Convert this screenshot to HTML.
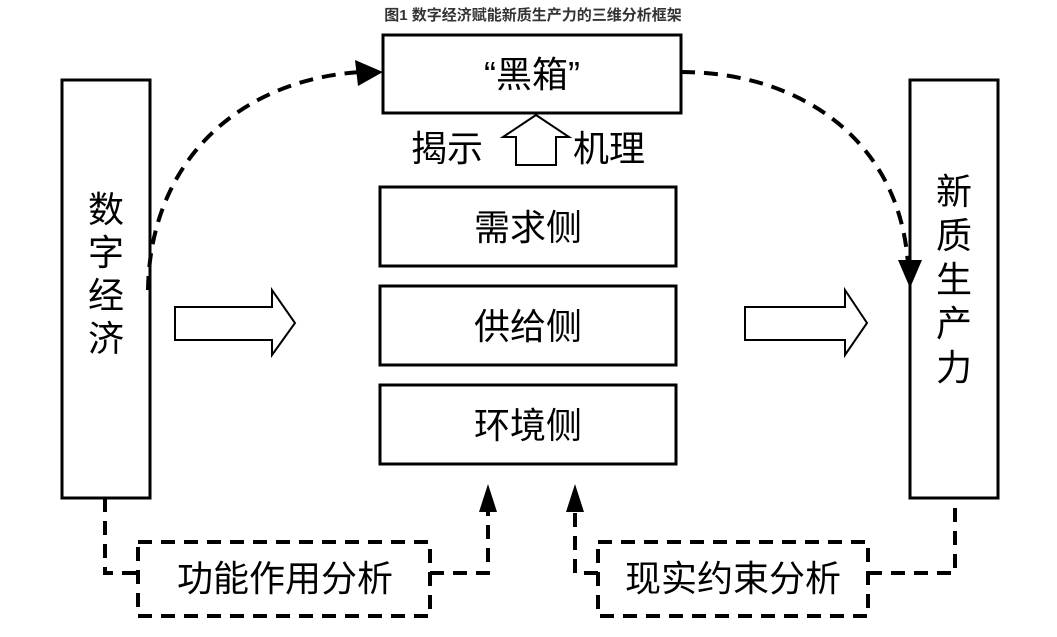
<!DOCTYPE html><html><head><meta charset="utf-8"><style>
body{margin:0;background:#fff;width:1057px;height:632px;overflow:hidden}
</style></head><body>
<svg width="1057" height="632" xmlns="http://www.w3.org/2000/svg" font-family="'Liberation Sans','Noto Sans CJK SC',sans-serif">
<text x="533" y="20" text-anchor="middle" font-size="15" font-weight="bold" fill="#333">图1 数字经济赋能新质生产力的三维分析框架</text>
<g fill="#fff" stroke="#000" stroke-width="3">
<rect x="383" y="35" width="298" height="78"/>
<rect x="62" y="80" width="88" height="418"/>
<rect x="910" y="80" width="88" height="418"/>
<rect x="380" y="187" width="296" height="79"/>
<rect x="380" y="286" width="296" height="79"/>
<rect x="380" y="385" width="296" height="79"/>
<polygon points="175,307 272,307 272,290 295,323 272,355 272,340 175,340" stroke-width="2"/>
<polygon points="745,307 845,307 845,290 867,323 845,355 845,340 745,340" stroke-width="2"/>
<polygon points="516,165 516,137 503,137 536,115 569,137 556,137 556,165" stroke-width="2"/>
</g>
<g fill="none" stroke="#000" stroke-width="4" stroke-dasharray="14,9">
<path d="M148,290 C150,160 240,80 360,72"/>
<path d="M681,72 C800,72 900,140 908,265"/>
<rect x="138" y="542" width="292" height="74"/>
<rect x="598" y="542" width="270" height="74"/>
<path d="M105,498 V573 H138"/>
<path d="M430,573 H488 V505"/>
<path d="M598,573 H575 V505"/>
<path d="M868,573 H955 V498"/>
</g>
<g fill="#000">
<polygon points="383,72 355,60 358,86"/>
<polygon points="910,288 898,260 922,260"/>
<polygon points="488,484 479,512 497,512"/>
<polygon points="575,484 566,512 584,512"/>
</g>
<g font-size="36" text-anchor="middle" fill="#000">
<text x="532" y="87">“黑箱”</text>
<text x="447" y="161">揭示</text>
<text x="609" y="161">机理</text>
<text x="528" y="240">需求侧</text>
<text x="528" y="339">供给侧</text>
<text x="528" y="438">环境侧</text>
<text x="106" y="222">数</text><text x="106" y="265">字</text><text x="106" y="308">经</text><text x="106" y="351">济</text>
<text x="954" y="204">新</text><text x="954" y="248">质</text><text x="954" y="292">生</text><text x="954" y="336">产</text><text x="954" y="380">力</text>
<text x="285" y="591">功能作用分析</text>
<text x="733" y="591">现实约束分析</text>
</g>
</svg>
</body></html>
